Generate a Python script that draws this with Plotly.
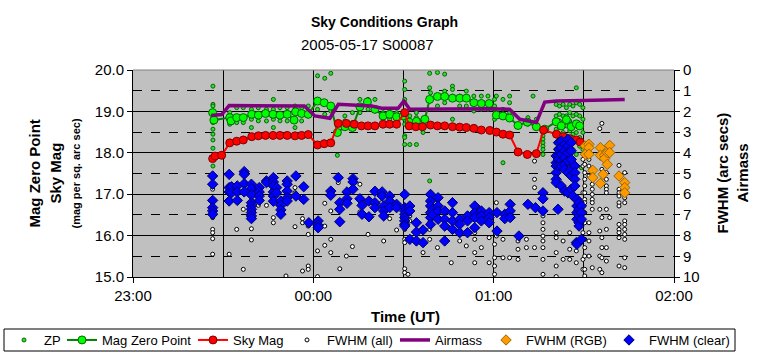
import plotly.graph_objects as go

# ---------------- data (time in minutes after 23:00 UT) ----------------
tick_minutes = [0, 60, 120, 180]
tick_labels = ["23:00", "00:00", "01:00", "02:00"]

# ZP small dots: (time, [mags])
zp_columns = [
    (26.6, [19.61, 19.17, 19.13, 19.01, 18.89, 18.73, 18.57, 18.45, 18.31, 18.11, 17.68]),
    (32.2, [18.97, 18.69]), (34.5, [19.09, 18.73]), (36.7, [19.09, 18.73]),
    (39.4, [19.05, 18.81, 18.61]), (41.7, [19.09, 18.77]), (44.4, [19.05, 18.77]),
    (46.7, [19.29, 19.05, 18.81, 18.61]), (48.9, [19.09, 18.77]), (51.3, [19.09, 18.77]),
    (53.9, [19.13, 18.61]), (56.1, [19.09, 18.77]), (58.3, [19.13, 18.89]),
    (61.4, [19.86, 19.29, 19.05]), (63.8, [19.80, 18.93]), (65.8, [19.92, 19.01]),
    (68.0, [17.94]), (70.5, [18.89, 18.77]), (73.0, [18.97, 18.73]), (75.5, [19.29, 18.97]),
    (78.2, [19.29, 19.05]), (80.5, [19.29, 19.01]), (83.2, [18.97, 18.85]),
    (85.4, [18.97, 18.81]), (87.7, [18.97, 18.81]),
    (90.4, [19.73, 19.53, 19.29, 19.21, 18.81, 18.69, 18.41, 18.37, 18.20]),
    (92.1, [18.89, 18.20]), (94.3, [18.97, 18.85, 18.69, 18.20]), (96.5, [18.81, 18.69, 18.49]),
    (98.7, [19.92, 19.57, 17.32]), (99.0, [19.45]), (101.3, [19.94, 19.13]),
    (103.7, [19.90, 19.49, 19.21]), (106.3, [19.61, 19.53, 19.37, 18.81]),
    (108.7, [19.37, 19.13]), (110.9, [19.49, 19.13]), (113.4, [19.37, 19.01]),
    (115.9, [19.37, 19.05]), (118.1, [19.37, 19.21, 19.05]), (120.3, [19.29, 19.13, 18.81]),
    (120.9, [19.37, 18.97, 18.89]), (123.1, [19.29, 19.05, 18.85, 17.76]),
    (125.3, [19.37, 19.21, 18.97]), (131.4, [18.85, 18.77, 18.69]), (133.1, [19.37]),
    (134.2, [18.81, 18.69]),
    (136.4, [18.57, 18.49, 18.41, 18.33, 18.24, 18.16, 18.08, 17.96]),
    (140.8, [19.17, 18.89, 18.73, 18.57, 18.41, 18.24, 18.08, 17.92]),
    (141.9, [19.13, 18.93, 18.77, 18.61, 18.45, 18.29, 18.12]),
    (143.1, [19.17, 18.89, 18.69, 18.49, 18.29, 18.00]),
    (144.2, [19.09, 18.89, 18.65, 18.41, 18.16, 17.92]),
    (145.3, [19.17, 18.97, 18.77, 18.53, 18.24]),
    (146.4, [19.13, 18.89, 18.69, 18.45, 18.08]),
    (147.5, [19.57, 19.21, 18.93, 18.73, 18.49, 17.96]),
    (148.6, [19.17, 18.89, 18.65, 18.37, 18.16]),
    (149.2, [17.64]), (149.7, [19.09, 18.81, 18.49, 18.08]),
]

magzp_time = [26.5, 26.9, 32.2, 32.6, 34.5, 36.7, 39.5, 41.7, 44.1, 46.6, 48.9, 51.3, 53.6, 54.1,
              56.1, 58.3, 61.4, 63.6, 65.8, 68.0, 70.5, 73.0, 75.5, 78.0, 80.5, 83.2, 85.4, 87.7,
              89.9, 91.9, 94.3, 97.1, 98.7, 101.3, 103.7, 106.3, 108.7, 110.9, 113.4, 115.9, 118.5,
              120.9, 123.1, 125.3, 128.1, 131.2, 134.2, 137.0, 140.8, 142.5, 144.2, 145.8, 147.5, 148.6]
magzp_mag = [18.97, 18.79, 18.85, 18.77, 18.85, 18.85, 18.93, 18.91, 18.95, 18.93, 18.91, 18.93, 18.79, 18.99,
             18.95, 18.93, 19.25, 19.21, 19.13, 18.49, 18.63, 18.61, 19.11, 19.23, 19.05, 18.89, 18.93, 18.87,
             18.89, 18.74, 18.76, 18.81, 19.29, 19.36, 19.36, 19.32, 19.32, 19.32, 19.21, 19.19, 19.19,
             18.91, 18.89, 18.84, 18.66, 18.74, 18.63, 18.57, 18.75, 18.65, 18.80, 18.63, 18.70, 18.65]

skymag_time = [26.5, 27.3, 29.5, 32.2, 34.5, 36.7, 39.5, 41.7, 44.1, 46.6, 48.9, 51.3, 53.9, 56.1, 58.3,
               61.4, 63.6, 65.8, 68.3, 71.0, 73.6, 76.0, 78.2, 80.5, 83.2, 85.4, 87.7, 90.4, 91.9, 94.1,
               96.3, 99.0, 101.3, 103.7, 106.3, 108.7, 110.9, 113.4, 115.9, 118.7, 120.9, 123.1, 125.3,
               128.1, 131.2, 134.2, 136.6, 140.9, 143.1, 145.3, 147.5, 148.8]
skymag_mag = [17.86, 17.92, 17.94, 18.24, 18.28, 18.31, 18.39, 18.41, 18.42, 18.42, 18.42, 18.42, 18.41, 18.42, 18.44,
              18.19, 18.22, 18.24, 18.71, 18.71, 18.69, 18.65, 18.65, 18.65, 18.69, 18.69, 18.69, 18.97, 18.65, 18.63,
              18.63, 18.67, 18.65, 18.65, 18.63, 18.62, 18.61, 18.59, 18.55, 18.54, 18.50, 18.45, 18.43,
              18.02, 17.96, 17.98, 18.55, 18.45, 18.39, 18.34, 18.31, 18.26]

fwhm_all_columns = [
    (26.5, [5.76, 7.13, 7.70, 7.86, 8.15, 8.90]), (32.0, [8.90]), (34.5, [7.70]), (36.7, [6.73, 9.63]),
    (39.4, [7.67, 8.21]), (41.7, [6.54]), (44.4, [6.54]), (46.7, [7.13, 7.38]), (50.9, [9.95]),
    (53.9, [5.68, 5.93, 6.09, 7.57]), (56.4, [7.18, 7.38, 9.71]), (58.3, [7.54, 7.94, 9.47, 9.63]),
    (61.4, [8.74, 9.98]), (63.8, [6.44, 7.54, 8.47]), (65.8, [6.81, 8.18, 8.82]), (68.3, [5.44]),
    (68.8, [9.60]), (71.0, [8.99]), (73.0, [8.53]), (75.5, [5.52, 6.86]), (78.2, [7.94]), (80.5, [6.65]),
    (82.7, [6.41]), (83.4, [8.26]), (85.4, [7.18]), (87.7, [7.73]), (90.4, [7.70, 8.18, 8.34, 9.60, 9.79]),
    (91.5, [9.87]), (92.1, [7.05, 7.29]), (94.3, [7.46]), (96.5, [8.82]), (98.7, [7.38, 7.70, 8.18]),
    (101.3, [8.58]), (103.7, [8.18]), (105.9, [9.31]), (108.7, [8.26]), (110.9, [8.50]),
    (113.7, [7.70, 7.86, 8.18, 8.82, 9.31]), (115.9, [8.58]), (118.5, [8.10, 9.31]), (120.9, [6.41, 8.02]),
    (120.3, [8.42, 9.07, 9.47, 9.87]), (123.1, [8.18, 9.07]), (125.3, [9.07]), (128.1, [8.26, 8.66, 9.15]),
    (130.9, [8.18, 8.58]), (133.6, [4.40, 5.28, 5.68, 8.58]),
    (136.4, [7.05, 7.38, 7.70, 8.02, 8.26, 8.58, 9.15, 9.87]),
    (140.8, [4.56, 7.86, 8.10, 8.82, 9.47, 9.98]), (143.1, [8.26, 9.15]), (145.3, [7.86, 8.66, 9.15]),
    (147.5, [8.34, 8.74, 9.31]), (149.7, [4.32, 4.64, 5.93, 7.86, 9.15, 9.63]),
    (150.3, [4.56, 4.96, 5.28, 5.60, 5.93, 6.25, 6.41, 6.89, 7.38, 8.18, 8.58, 8.99, 9.63, 9.95]),
    (151.7, [4.32, 4.64, 5.12, 7.38, 7.86, 8.26, 8.99]),
    (152.8, [5.52, 5.76, 6.01, 6.25, 6.41, 6.73, 9.55]),
    (155.3, [2.83, 6.73, 7.78, 8.99, 9.63]),
    (156.0, [2.58, 4.80, 5.04, 7.13, 8.10, 8.58, 9.07, 9.79]),
    (157.5, [4.48, 4.96, 5.28, 5.60, 5.76, 5.93, 6.73, 7.70, 8.58, 9.23]),
    (158.6, [7.13]),
    (161.7, [4.61, 5.76, 5.93, 6.09, 6.41, 6.57, 7.46, 7.70, 7.86, 8.10, 9.47]),
    (163.6, [4.96, 5.93, 6.17, 6.41, 7.29, 7.46, 7.70, 7.94, 8.18, 9.07, 9.55]),
]

airmass_time = [26, 29.5, 32, 49, 57, 60.5, 65.5, 68.3, 79.4, 82.7, 88.2, 90.1, 92.1, 118.7, 125.3,
                128.7, 134.2, 137, 140.9, 149.7, 163.6]
airmass_val = [2.2, 2.15, 1.72, 1.72, 1.74, 2.22, 2.33, 1.66, 1.74, 1.85, 1.85, 1.5, 1.9, 1.87, 1.9,
               2.38, 2.54, 1.55, 1.5, 1.47, 1.42]

fwhm_rgb_columns = [
    (150.5, [3.67, 4.07]), (151.7, [3.59, 3.75, 4.07]), (153.0, [4.85, 5.20]),
    (155.5, [3.75, 4.12, 5.48]), (156.4, [5.04]), (156.9, [4.12, 4.28]), (157.8, [3.99, 4.56]),
    (158.6, [3.64, 3.99]), (161.7, [5.12]), (163.6, [5.44, 5.68, 5.93]),
]

fwhm_clear_columns = [
    (26.5, [5.12, 5.52, 6.30, 6.65, 6.81, 6.97]), (32.0, [5.04, 5.68, 5.89, 6.33]), (32.8, [5.64, 5.93]),
    (34.7, [5.60, 5.89, 6.30]), (37.0, [4.91, 5.04, 5.49, 5.89]),
    (39.4, [5.52, 5.72, 6.04, 6.41, 6.57, 6.73, 6.89, 7.05, 7.18]), (42.0, [5.68, 5.89, 6.09, 6.30]),
    (44.4, [5.36, 5.44]), (46.7, [5.20, 5.41, 5.60, 5.89, 6.09, 6.34]), (47.8, [5.68, 5.93]),
    (49.2, [6.33, 6.54, 6.76, 6.97]), (51.3, [5.36, 5.52, 5.85, 6.17, 6.33]), (54.2, [5.12, 6.09]),
    (56.8, [5.64, 6.25]), (58.5, [7.38]), (61.6, [7.29, 7.50, 7.62]), (65.8, [5.85, 6.05]),
    (68.3, [5.20]), (68.8, [6.41, 6.73, 7.33]), (71.2, [5.89, 6.22, 6.44]), (73.2, [5.25, 5.41, 5.76]),
    (75.5, [6.22]), (76.2, [6.54, 6.97]), (78.5, [6.33, 7.09]), (80.5, [5.86, 6.41, 6.65]),
    (82.9, [5.89, 6.09]), (83.4, [6.57, 6.81, 7.05]), (85.4, [6.09, 6.33, 6.65]), (87.7, [6.49, 6.65]),
    (90.4, [6.01, 6.65, 6.81, 6.97, 7.13, 7.29, 7.46, 7.54]), (92.1, [6.57, 6.81, 8.18]),
    (94.3, [7.38, 7.83, 8.26]), (96.5, [7.73, 8.34]), (99.0, [6.01, 6.33, 6.57, 6.89, 7.13, 7.46]),
    (99.8, [6.73, 6.97]), (101.5, [6.17, 6.57, 6.81, 7.21]), (103.7, [6.81, 7.21, 7.54, 8.26]),
    (106.3, [6.41, 6.89, 7.29, 7.70]), (108.7, [7.21, 7.46, 7.86]), (111.3, [7.05, 7.29, 7.86]),
    (113.7, [6.57, 6.89, 7.13, 7.62]), (115.9, [6.81, 7.05, 7.29]), (118.5, [6.89, 7.13, 7.38]),
    (121.1, [6.89, 7.78]), (123.7, [6.97, 7.18]), (125.5, [6.49, 6.81, 7.13]), (128.4, [8.02]),
    (131.4, [6.49]), (133.9, [6.65]), (136.4, [5.93, 6.22, 6.81]),
    (140.8, [4.15, 4.48, 4.64, 4.96, 5.28, 5.44]), (141.4, [6.73]),
    (141.6, [3.51, 3.83, 4.15, 4.32, 4.64]), (142.5, [3.43, 3.75, 4.07, 4.40, 4.64, 5.60]),
    (143.6, [3.59, 3.91, 4.24, 4.56, 4.80, 5.85]), (144.7, [3.35, 3.67, 3.99, 4.40, 4.96, 5.93]),
    (145.8, [3.51, 3.91, 4.32, 4.80, 5.12, 5.76]), (146.4, [6.09]), (147.0, [4.64, 4.96, 5.28, 5.60]),
    (147.5, [8.34]), (147.7, [6.25, 6.57, 6.89, 7.21, 8.42]), (148.4, [6.41, 6.73, 7.05, 7.38, 7.54]),
    (149.2, [6.57, 6.89, 7.21, 8.18]),
]


def expand(columns):
    xs, ys = [], []
    for t, vals in columns:
        for v in vals:
            xs.append(t)
            ys.append(v)
    return xs, ys


zp_time, zp_mag = expand(zp_columns)
fall_time, fall_val = expand(fwhm_all_columns)
frgb_time, frgb_val = expand(fwhm_rgb_columns)
fclr_time, fclr_val = expand(fwhm_clear_columns)

FONT = "Liberation Sans, Arial, sans-serif"
PL, PR, PT, PB = 133, 674, 70, 277          # plot-area pixel box
PW, PH = PR - PL, PB - PT


def px_x(px):
    return (px - PL) / PW


def px_y(py):
    return (PB - py) / PH


fig = go.Figure()

fig.add_trace(go.Scatter(
    x=zp_time, y=zp_mag, name="ZP", mode="markers", yaxis="y", legend="legend",
    marker=dict(symbol="circle", size=4, color="#33DD33", line=dict(color="#006600", width=1))))
fig.add_trace(go.Scatter(
    x=magzp_time, y=magzp_mag, name="Mag Zero Point", mode="lines+markers", yaxis="y", legend="legend2",
    line=dict(color="#008000", width=2),
    marker=dict(symbol="circle", size=8, color="#00FF00", line=dict(color="#006600", width=1))))
fig.add_trace(go.Scatter(
    x=skymag_time, y=skymag_mag, name="Sky Mag", mode="lines+markers", yaxis="y", legend="legend3",
    line=dict(color="#FF0000", width=2),
    marker=dict(symbol="circle", size=8, color="#FF0000", line=dict(color="#800000", width=1))))
fig.add_trace(go.Scatter(
    x=fall_time, y=fall_val, name="FWHM (all)", mode="markers", yaxis="y2", legend="legend4",
    marker=dict(symbol="circle", size=4, color="#FFFFFF", line=dict(color="#000000", width=1))))
fig.add_trace(go.Scatter(
    x=airmass_time, y=airmass_val, name="Airmass", mode="lines", yaxis="y2", legend="legend5",
    line=dict(color="#800080", width=3.5)))
fig.add_trace(go.Scatter(
    x=frgb_time, y=frgb_val, name="FWHM (RGB)", mode="markers", yaxis="y2", legend="legend6",
    marker=dict(symbol="diamond", size=8, color="#FF9900", line=dict(color="#996600", width=1))))
fig.add_trace(go.Scatter(
    x=fclr_time, y=fclr_val, name="FWHM (clear)", mode="markers", yaxis="y2", legend="legend7",
    marker=dict(symbol="diamond", size=8, color="#0000FF", line=dict(color="#000066", width=1))))

legend_common = dict(orientation="h", xanchor="left", yanchor="middle", y=px_y(340),
                     borderwidth=0, bgcolor="rgba(0,0,0,0)",
                     font=dict(family=FONT, size=13), itemwidth=30, tracegroupgap=0)
legend_slots = [4, 62, 193, 287, 395, 486, 609]   # left edge of each legend entry (px)

legend_layout = {}
for i, slot in enumerate(legend_slots):
    key = "legend" if i == 0 else "legend%d" % (i + 1)
    legend_layout[key] = dict(x=px_x(slot), **legend_common)

fig.update_layout(
    width=764, height=358, autosize=False,
    margin=dict(l=PL, r=764 - PR, t=PT, b=358 - PB, autoexpand=False),
    paper_bgcolor="#FFFFFF", plot_bgcolor="#C0C0C0",
    font=dict(family=FONT, size=15, color="#000000"),
    showlegend=True,
    xaxis=dict(range=[0, 180], tickvals=tick_minutes, ticktext=tick_labels,
               showgrid=True, gridcolor="#000000", gridwidth=1, zeroline=False,
               showline=True, linecolor="#000000", linewidth=1,
               ticks="outside", ticklen=5, tickcolor="#000000",
               tickfont=dict(family=FONT, size=15),
               minor=dict(tick0=0, dtick=30, showgrid=True, gridcolor="#000000", gridwidth=1, ticks="")),
    yaxis=dict(range=[15, 20], dtick=1, tick0=15, tickformat=".1f",
               showgrid=True, gridcolor="#000000", gridwidth=1, zeroline=False,
               showline=True, linecolor="#000000", linewidth=1,
               ticks="outside", ticklen=5, tickcolor="#000000",
               tickfont=dict(family=FONT, size=15),
               minor=dict(tick0=15, dtick=0.5, showgrid=True, gridcolor="#000000",
                          griddash="dash", gridwidth=1, ticks="")),
    yaxis2=dict(range=[10, 0], dtick=1, tick0=0, overlaying="y", side="right",
                showgrid=False, zeroline=False,
                showline=True, linecolor="#000000", linewidth=1,
                ticks="outside", ticklen=5, tickcolor="#000000",
                tickfont=dict(family=FONT, size=15)),
    **legend_layout,
)

# top border of plot area and legend frame
fig.add_shape(type="line", xref="paper", yref="paper", x0=0, x1=1, y0=1, y1=1,
              line=dict(color="#808080", width=1))
fig.add_shape(type="rect", xref="paper", yref="paper",
              x0=px_x(4), x1=px_x(735), y0=px_y(351), y1=px_y(329),
              line=dict(color="#000000", width=1), fillcolor="rgba(0,0,0,0)")

annotations = [
    dict(text="<b>Sky Conditions Graph</b>", x=px_x(384), y=px_y(22), xref="paper", yref="paper",
         xanchor="center", yanchor="middle", showarrow=False, font=dict(family=FONT, size=14)),
    dict(text="2005-05-17 S00087", x=px_x(367), y=px_y(45), xref="paper", yref="paper",
         xanchor="center", yanchor="middle", showarrow=False, font=dict(family=FONT, size=15)),
    dict(text="<b>Time (UT)</b>", x=px_x(405), y=px_y(316), xref="paper", yref="paper",
         xanchor="center", yanchor="middle", showarrow=False, font=dict(family=FONT, size=15)),
    dict(text="<b>Mag Zero Point</b>", x=px_x(34), y=0.5, xref="paper", yref="paper", textangle=-90,
         xanchor="center", yanchor="middle", showarrow=False, font=dict(family=FONT, size=15)),
    dict(text="<b>Sky Mag</b>", x=px_x(55), y=0.5, xref="paper", yref="paper", textangle=-90,
         xanchor="center", yanchor="middle", showarrow=False, font=dict(family=FONT, size=15)),
    dict(text="<b>(mag per sq. arc sec)</b>", x=px_x(75), y=0.5, xref="paper", yref="paper", textangle=-90,
         xanchor="center", yanchor="middle", showarrow=False, font=dict(family=FONT, size=11)),
    dict(text="<b>FWHM (arc secs)</b>", x=px_x(722), y=0.5, xref="paper", yref="paper", textangle=-90,
         xanchor="center", yanchor="middle", showarrow=False, font=dict(family=FONT, size=15)),
    dict(text="<b>Airmass</b>", x=px_x(742), y=0.5, xref="paper", yref="paper", textangle=-90,
         xanchor="center", yanchor="middle", showarrow=False, font=dict(family=FONT, size=15)),
]
fig.update_layout(annotations=annotations)

fig.write_html("out.html", config={"displayModeBar": False},
               post_script="document.body.style.margin='0px';")
